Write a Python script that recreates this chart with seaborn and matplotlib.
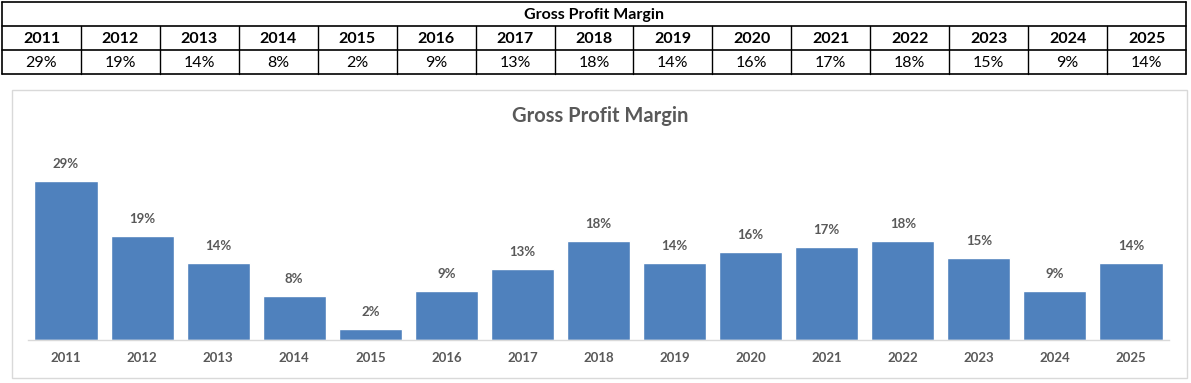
import matplotlib
matplotlib.use("Agg")
import matplotlib.pyplot as plt
import seaborn as sns
import pandas as pd
from matplotlib.patches import Rectangle

# data
years = ["2011", "2012", "2013", "2014", "2015", "2016", "2017", "2018",
         "2019", "2020", "2021", "2022", "2023", "2024", "2025"]
margins = [0.29, 0.19, 0.14, 0.08, 0.02, 0.09, 0.13, 0.18,
           0.14, 0.16, 0.17, 0.18, 0.15, 0.09, 0.14]
title = "Gross Profit Margin"

df = pd.DataFrame({"year": years, "margin": margins})

sns.set_theme(style="white")
plt.rcParams["font.family"] = ["Lato", "DejaVu Sans"]

W, H = 1191, 383
fig = plt.figure(figsize=(W / 100, H / 100), dpi=100)

# top table, drawn on a full-figure overlay in pixel coordinates
tab = fig.add_axes([0, 0, 1, 1])
tab.set_xlim(0, W)
tab.set_ylim(H, 0)
tab.axis("off")
x0, x1 = 2, 1186
rows = [2, 26, 50, 74]
colw = (x1 - x0) / len(years)
for y in rows:
    tab.plot([x0, x1], [y, y], color="black", lw=1.2)
tab.plot([x0, x0], [rows[0], rows[-1]], color="black", lw=1.2)
tab.plot([x1, x1], [rows[0], rows[-1]], color="black", lw=1.2)
for i in range(1, len(years)):
    xx = x0 + i * colw
    tab.plot([xx, xx], [rows[1], rows[-1]], color="black", lw=1.0)
tab.text((x0 + x1) / 2, (rows[0] + rows[1]) / 2 + 1, title, ha="center",
         va="center", fontsize=11.5, fontweight="bold", color="black")
for i, (yr, m) in enumerate(zip(years, margins)):
    cx = x0 + (i + 0.5) * colw
    tab.text(cx, (rows[1] + rows[2]) / 2 + 1, yr, ha="center", va="center",
             fontsize=11.5, fontweight="bold", color="black")
    tab.text(cx, (rows[2] + rows[3]) / 2 + 1, f"{m:.0%}", ha="center",
             va="center", fontsize=11.5, color="black")

# chart frame
tab.add_patch(Rectangle((12, 90), 1175, 288, fill=False, ec="#d9d9d9", lw=1.0))
tab.text(600, 116, title, ha="center", va="center", fontsize=14.5,
         fontweight="bold", color="#595959")

# bar chart
left, right, base = 28, 1169, 340
ymax = 0.35
ppu = 548
ax = fig.add_axes([left / W, (H - base) / H, (right - left) / W, ymax * ppu / H])
ax.patch.set_alpha(0)
sns.barplot(data=df, x="year", y="margin", color="#4f81bd", saturation=1,
            width=0.83, ax=ax)
ax.set_xlim(-0.5, len(years) - 0.5)
ax.set_ylim(0, ymax)
for s in ["top", "right", "left"]:
    ax.spines[s].set_visible(False)
ax.spines["bottom"].set_color("#d9d9d9")
ax.spines["bottom"].set_linewidth(1.0)
ax.set_yticks([])
ax.set_xlabel("")
ax.set_ylabel("")
ax.set_xticks(range(len(years)))
ax.set_xticklabels(years, fontweight="bold", fontsize=9.5, color="#595959")
ax.tick_params(axis="x", length=0, pad=9)
for c in ax.containers:
    ax.bar_label(c, labels=[f"{v:.0%}" for v in margins], padding=8,
                 fontsize=9.5, fontweight="bold", color="#595959")

fig.savefig("out.png", dpi=100)
